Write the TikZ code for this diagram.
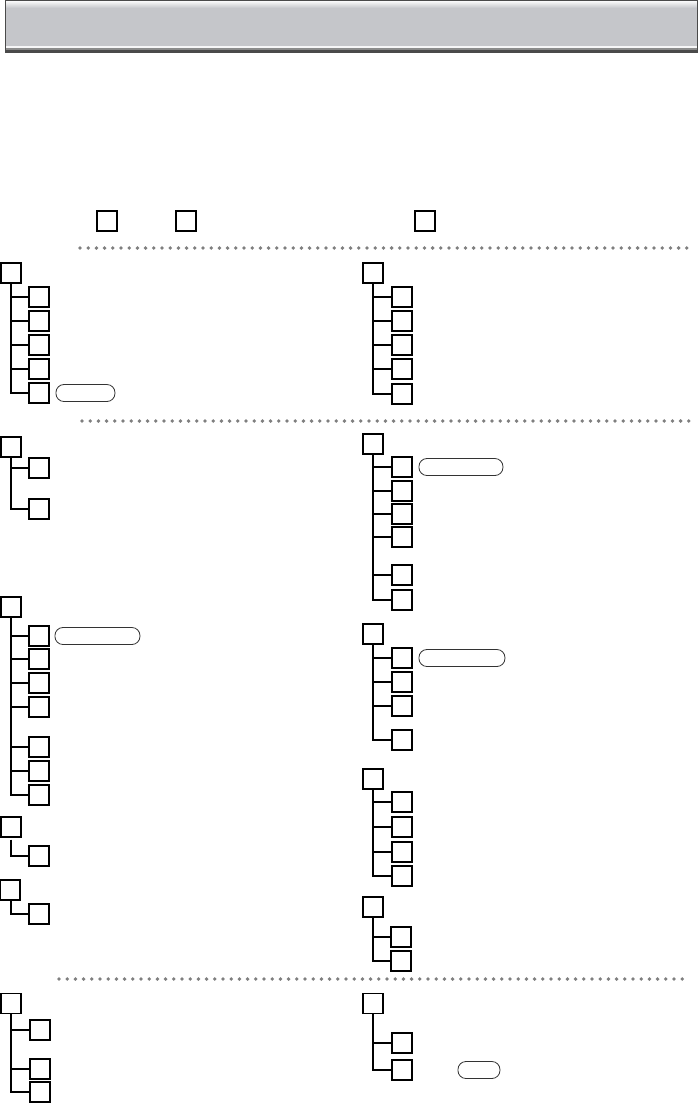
\documentclass[tikz,border=0pt]{standalone}
\usetikzlibrary{positioning}
\definecolor{barfill}{HTML}{C5C6CA}
\definecolor{barrim}{HTML}{4A4A4A}
\definecolor{dotgray}{HTML}{7F7F7F}

\begin{document}
\begin{tikzpicture}[
    x=1pt, y=-1pt,
    box/.style={draw, rectangle, line width=1.1pt, minimum size=20pt, inner sep=0pt},
    pill/.style={draw=black!80, rounded corners=8pt, line width=0.8pt, minimum height=17pt, inner sep=0pt},
    dots/.style={dotgray, line width=3.8pt, line cap=round, dash pattern=on 0pt off 8.2pt},
    link/.style={line width=1.1pt}
]
\useasboundingbox (0,0) rectangle (698,1103);

% header bar
\node[fill=barfill, minimum width=691pt, minimum height=51pt, inner sep=0pt] (bar) at (351.5,26.5) {};
\shade[top color=white!90!barfill, bottom color=barfill] (6,1) rectangle (697,8);
\fill[white!85!barfill] (6,46) rectangle (697,47.5);
\fill[black!45] (6,47.5) rectangle (697,50);
\fill[barrim] (6,50) rectangle (697,52);
\draw[barrim, line width=1pt] (bar.north west) rectangle (bar.south east);

% marker boxes in the text line
\node[box] (keyA) at (107,221) {};
\node[box] (keyB) at (186,221) {};
\node[box] (keyC) at (425,221) {};

% first section
\draw[dots] (80,248) -- (688,248);

\node[box] (l1) at (11,273) {};
\foreach \y [count=\i] in {297,321,345,369,393} {
  \node[box] (l1c\i) at (39,\y) {};
  \draw[link] (l1.south) |- (l1c\i.west);
}
\node[pill, minimum width=59pt, right=6pt of l1c5] (l1tag) {};

\node[box] (r1) at (373,273) {};
\foreach \y [count=\i] in {297,321,345,369,394} {
  \node[box] (r1c\i) at (402,\y) {};
  \draw[link] (r1.south) |- (r1c\i.west);
}

% second section
\draw[dots] (82,421) -- (690,421);

\node[box] (l2) at (11,447) {};
\foreach \y [count=\i] in {468,509} {
  \node[box] (l2c\i) at (39,\y) {};
  \draw[link] (l2.south) |- (l2c\i.west);
}

\node[box] (r2) at (373,444) {};
\foreach \y [count=\i] in {467,491,514,537,575,600} {
  \node[box] (r2c\i) at (402,\y) {};
  \draw[link] (r2.south) |- (r2c\i.west);
}
\node[pill, minimum width=84pt, right=6pt of r2c1] (r2tag) {};

\node[box] (l3) at (11,607) {};
\foreach \y [count=\i] in {636,659,683,707,747,771,795} {
  \node[box] (l3c\i) at (39,\y) {};
  \draw[link] (l3.south) |- (l3c\i.west);
}
\node[pill, minimum width=85pt, right=5pt of l3c1] (l3tag) {};

\node[box] (r3) at (373,634) {};
\foreach \y [count=\i] in {658,682,706,740} {
  \node[box] (r3c\i) at (402,\y) {};
  \draw[link] (r3.south) |- (r3c\i.west);
}
\node[pill, minimum width=86pt, right=6pt of r3c1] (r3tag) {};

\node[box] (l4) at (11,827) {};
\node[box] (l4c1) at (39,856) {};
\draw[link] ([yshift=-2pt]l4.south) |- (l4c1.west);

\node[box] (r4) at (373,779) {};
\foreach \y [count=\i] in {802,827,852,876} {
  \node[box] (r4c\i) at (402,\y) {};
  \draw[link] (r4.south) |- (r4c\i.west);
}

\node[box] (l5) at (10,890) {};
\node[box] (l5c1) at (39,914) {};
\draw[link] ([xshift=1pt]l5.south) |- (l5c1.west);

\node[box] (r5) at (373,907) {};
\foreach \y [count=\i] in {937,961} {
  \node[box] (r5c\i) at (401,\y) {};
  \draw[link] (r5.south) |- (r5c\i.west);
}

% third section
\draw[dots] (59,979) -- (685,979);

\node[box] (l6) at (11,1003.5) {};
\foreach \y [count=\i] in {1030,1069,1092} {
  \node[box] (l6c\i) at (40,\y) {};
  \draw[link] (l6.south) |- (l6c\i.west);
}

\node[box] (r6) at (373,1003.5) {};
\foreach \y [count=\i] in {1043,1070} {
  \node[box] (r6c\i) at (402,\y) {};
  \draw[link] (r6.south) |- (r6c\i.west);
}
\node[pill, minimum width=42pt, right=45pt of r6c2] (r6tag) {};

\end{tikzpicture}
\end{document}
